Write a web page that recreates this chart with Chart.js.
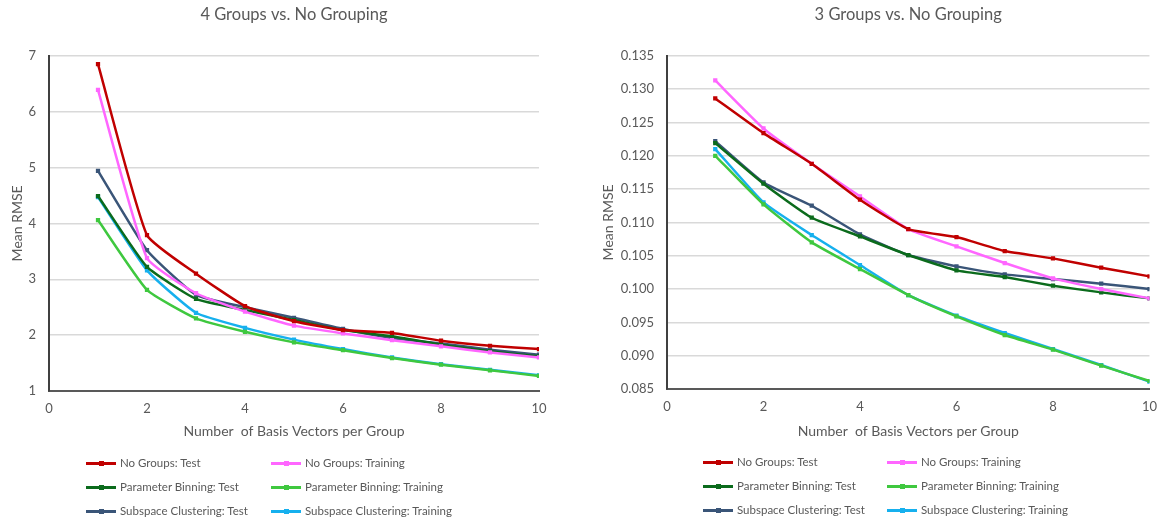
<!DOCTYPE html>
<html>
<head>
<meta charset="utf-8">
<script src="https://cdn.jsdelivr.net/npm/chart.js@4.4.1/dist/chart.umd.min.js"></script>
<style>
  html, body { margin: 0; padding: 0; background: #ffffff; }
  body { width: 1167px; height: 521px; position: relative; overflow: hidden; font-family: Lato, sans-serif; }
  .panel { position: absolute; top: 0; height: 521px; }
  .panel canvas { position: absolute; left: 0; top: 0; }
  .legend { position: absolute; font-family: Lato, sans-serif; font-size: 11.5px; color: #595959; }
  .legend .item { position: absolute; white-space: nowrap; height: 14px; line-height: 14px; }
  .legend .swatch { position: absolute; top: 6px; height: 2.5px; width: 30px; }
  .legend .swatch i { position: absolute; left: 12.5px; top: -1.5px; width: 5px; height: 5px; }
  .legend .label { position: absolute; left: 34px; top: 0; }
</style>
</head>
<body>
<div class="panel" id="panelA" style="left:0;width:583px;"><canvas id="chartA" width="583" height="521"></canvas></div>
<div class="panel" id="panelB" style="left:583px;width:584px;"><canvas id="chartB" width="584" height="521"></canvas></div>
<script>
// Number of basis vectors per group (x values)
const basisVectors = [1, 2, 3, 4, 5, 6, 7, 8, 9, 10];

// Series names and colours (shared by both panels)
const seriesNames = [
  'No Groups: Test', 'No Groups: Training',
  'Parameter Binning: Test', 'Parameter Binning: Training',
  'Subspace Clustering: Test', 'Subspace Clustering: Training'
];
const seriesColors = ['#C00000', '#FF66FF', '#0B6B1C', '#3FC83F', '#3A5578', '#16B0EE'];

// 4 groups vs. no grouping — mean RMSE
const g4NoGroupsTest      = [6.85, 3.79, 3.10, 2.52, 2.25, 2.09, 2.04, 1.90, 1.81, 1.75];
const g4NoGroupsTrain     = [6.39, 3.38, 2.75, 2.42, 2.17, 2.03, 1.91, 1.80, 1.69, 1.60];
const g4BinningTest       = [4.49, 3.22, 2.65, 2.45, 2.27, 2.09, 1.98, 1.83, 1.71, 1.62];
const g4BinningTrain      = [4.06, 2.81, 2.30, 2.06, 1.87, 1.73, 1.59, 1.47, 1.37, 1.27];
const g4ClusteringTest    = [4.94, 3.52, 2.72, 2.50, 2.31, 2.11, 1.95, 1.85, 1.74, 1.65];
const g4ClusteringTrain   = [4.47, 3.16, 2.40, 2.13, 1.92, 1.75, 1.60, 1.48, 1.38, 1.28];

// 3 groups vs. no grouping — mean RMSE
const g3NoGroupsTest      = [0.1286, 0.1234, 0.1188, 0.1134, 0.1090, 0.1078, 0.1057, 0.1046, 0.1032, 0.1019];
const g3NoGroupsTrain     = [0.1313, 0.1241, 0.1188, 0.1139, 0.1090, 0.1064, 0.1039, 0.1016, 0.1000, 0.0986];
const g3BinningTest       = [0.1219, 0.1158, 0.1107, 0.1079, 0.1051, 0.1028, 0.1018, 0.1005, 0.0995, 0.0986];
const g3BinningTrain      = [0.1200, 0.1127, 0.1070, 0.1030, 0.0991, 0.0959, 0.0931, 0.0909, 0.0885, 0.0862];
const g3ClusteringTest    = [0.1222, 0.1160, 0.1125, 0.1082, 0.1051, 0.1034, 0.1022, 0.1015, 0.1008, 0.1000];
const g3ClusteringTrain   = [0.1210, 0.1130, 0.1081, 0.1036, 0.0991, 0.0960, 0.0934, 0.0910, 0.0886, 0.0861];

// Axis tick settings
const xTicks = { min: 0, max: 10, step: 2 };
const yTicksA = { min: 1, max: 7, step: 1 };
const yTicksB = { min: 0.085, max: 0.135, step: 0.005 };

const titleA = '4 Groups vs. No Grouping';
const titleB = '3 Groups vs. No Grouping';
const xTitle = 'Number  of Basis Vectors per Group';
const yTitle = 'Mean RMSE';

const TEXT = '#595959';
const GRID = '#d9d9d9';

function makeDatasets(seriesList) {
  return seriesList.map((vals, i) => ({
    label: seriesNames[i],
    data: vals.map((v, k) => ({ x: basisVectors[k], y: v })),
    borderColor: seriesColors[i],
    backgroundColor: seriesColors[i],
    borderWidth: 2.5,
    pointStyle: 'rect',
    pointRadius: 3,
    pointBorderWidth: 0,
    pointBackgroundColor: seriesColors[i],
    tension: 0.15,
    fill: false
  }));
}

function makeChart(canvasId, cfg) {
  const ctx = document.getElementById(canvasId);
  return new Chart(ctx, {
    type: 'line',
    data: { datasets: makeDatasets(cfg.series) },
    options: {
      responsive: false,
      animation: false,
      devicePixelRatio: 1,
      layout: { padding: { left: 0, right: cfg.padRight, top: 0, bottom: 80 } },
      plugins: {
        legend: { display: false },
        tooltip: { enabled: false },
        title: {
          display: true,
          text: cfg.title,
          fullSize: false,
          color: TEXT,
          font: { family: 'Lato', size: 16.5, weight: 'normal' },
          padding: { top: 5, bottom: 31 }
        }
      },
      scales: {
        x: {
          type: 'linear',
          min: xTicks.min,
          max: xTicks.max,
          afterFit: s => { s.height = cfg.xHeight; },
          ticks: { stepSize: xTicks.step, color: TEXT, font: { family: 'Lato', size: 13 }, padding: 10, maxRotation: 0 },
          grid: { display: false, drawTicks: false },
          border: { display: true, color: '#595959', width: 2 },
          title: { display: true, text: xTitle, color: TEXT, font: { family: 'Lato', size: 14 }, padding: { top: 0, bottom: 1 } }
        },
        y: {
          type: 'linear',
          min: cfg.yTicks.min,
          max: cfg.yTicks.max,
          afterFit: s => { s.width = cfg.yWidth; },
          ticks: {
            stepSize: cfg.yTicks.step,
            color: TEXT,
            font: { family: 'Lato', size: 13 },
            padding: 13,
            callback: v => v.toFixed(cfg.decimals)
          },
          grid: { color: GRID, lineWidth: 1.5, drawTicks: false },
          border: { display: true, color: '#404040', width: 2 },
          title: { display: true, text: yTitle, color: TEXT, font: { family: 'Lato', size: 14 }, padding: { top: cfg.yTitlePad, bottom: 0 } }
        }
      }
    }
  });
}

// Legend laid out as a 2-column grid, built from each chart's datasets
function buildLegend(chart, panelId, pos) {
  const box = document.createElement('div');
  box.className = 'legend';
  box.style.left = '0px';
  box.style.top = '0px';
  chart.data.datasets.forEach((ds, i) => {
    const col = i % 2, row = Math.floor(i / 2);
    const item = document.createElement('div');
    item.className = 'item';
    item.style.left = (pos.x[col]) + 'px';
    item.style.top = (pos.y[row] - 7) + 'px';
    const sw = document.createElement('span');
    sw.className = 'swatch';
    sw.style.background = ds.borderColor;
    const dot = document.createElement('i');
    dot.style.background = ds.borderColor;
    sw.appendChild(dot);
    const lab = document.createElement('span');
    lab.className = 'label';
    lab.textContent = ds.label;
    item.appendChild(sw);
    item.appendChild(lab);
    box.appendChild(item);
  });
  document.getElementById(panelId).appendChild(box);
}

const chartA = makeChart('chartA', {
  series: [g4NoGroupsTest, g4NoGroupsTrain, g4BinningTest, g4BinningTrain, g4ClusteringTest, g4ClusteringTrain],
  title: titleA, yTicks: yTicksA, decimals: 0,
  padRight: 44, yWidth: 49, xHeight: 50, yTitlePad: 9
});
const chartB = makeChart('chartB', {
  series: [g3NoGroupsTest, g3NoGroupsTrain, g3BinningTest, g3BinningTrain, g3ClusteringTest, g3ClusteringTrain],
  title: titleB, yTicks: yTicksB, decimals: 3,
  padRight: 11, yWidth: 84, xHeight: 52, yTitlePad: 17
});

buildLegend(chartA, 'panelA', { x: [86, 271], y: [463, 487, 511] });
buildLegend(chartB, 'panelB', { x: [120, 304], y: [462, 486, 510] });
</script>
</body>
</html>
